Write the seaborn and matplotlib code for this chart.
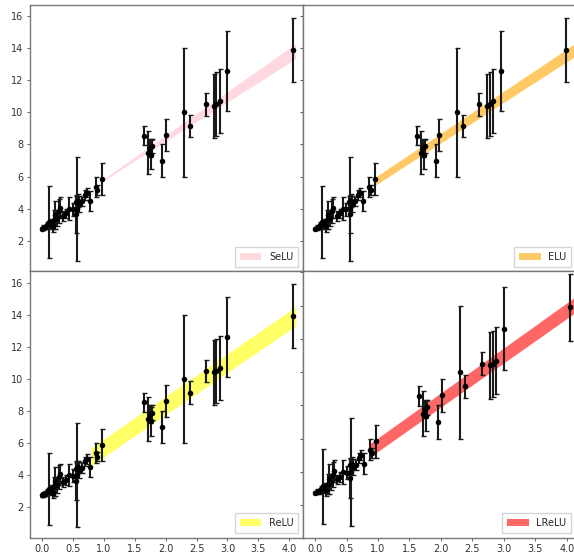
import numpy as np
import pandas as pd
import matplotlib
matplotlib.use('Agg')
import matplotlib.pyplot as plt
import seaborn as sns

# 数据点
x_vals = [0.00, 0.03, 0.06, 0.09, 0.12, 0.15, 0.18, 0.20, 0.22, 0.25,
          0.28, 0.30, 0.35, 0.40, 0.45, 0.50, 0.55, 0.56, 0.57, 0.58,
          0.60, 0.65, 0.70, 0.73, 0.78, 0.87, 0.90, 0.97, 1.65, 1.72,
          1.75, 1.76, 1.78, 1.95, 2.01, 2.30, 2.39, 2.65, 2.78, 2.82,
          2.88, 3.00, 4.05]
y_vals = [2.75, 2.80, 2.85, 2.95, 3.15, 3.05, 2.90, 3.30, 3.60, 3.40,
          3.85, 4.05, 3.55, 3.70, 4.00, 3.95, 4.40, 3.65, 4.00, 4.50,
          4.30, 4.45, 4.85, 5.00, 4.50, 5.35, 5.15, 5.85, 8.55, 7.50,
          7.80, 7.35, 7.90, 7.00, 8.60, 10.00, 9.15, 10.50, 10.40, 10.50,
          10.70, 12.60, 13.90]
y_err = [0.10, 0.15, 0.15, 0.20, 2.25, 0.30, 0.35, 0.60, 0.90, 0.50,
         0.75, 0.65, 0.30, 0.30, 0.70, 0.40, 0.40, 1.20, 3.25, 0.40,
         0.50, 0.30, 0.30, 0.30, 0.62, 0.62, 0.30, 1.00, 0.60, 1.35,
         0.55, 0.90, 0.45, 1.00, 1.00, 4.00, 0.70, 0.70, 2.00, 2.00,
         2.00, 2.50, 2.00]

# 各激活函数的拟合区间
models = ['SeLU', 'ELU', 'ReLU', 'LReLU']
colors = ['pink', 'orange', 'yellow', 'red']
band_x = {'SeLU': [1.00, 4.10], 'ELU': [0.97, 4.20],
          'ReLU': [0.80, 4.10], 'LReLU': [0.86, 4.15]}
band_low = {'SeLU': [5.75, 13.35], 'ELU': [5.45, 13.50],
            'ReLU': [4.60, 13.30], 'LReLU': [4.87, 13.62]}
band_high = {'SeLU': [5.85, 14.30], 'ELU': [5.95, 14.30],
             'ReLU': [5.70, 14.50], 'LReLU': [5.67, 14.57]}

x_ticks = [0.0, 0.5, 1.0, 1.5, 2.0, 2.5, 3.0, 3.5, 4.0]
y_ticks = [2, 4, 6, 8, 10, 12, 14, 16]

sns.set_theme(style='ticks')
plt.rcParams['font.family'] = ['DejaVu Sans']

df = pd.DataFrame({'x': x_vals, 'y': y_vals, 'err': y_err})

fig, axes = plt.subplots(2, 2, figsize=(5.74, 5.58), dpi=100)
plt.subplots_adjust(left=0.052, right=1.004, bottom=0.036, top=0.991,
                    wspace=0, hspace=0)

for i, (ax, name, col) in enumerate(zip(axes.flat, models, colors)):
    ax.fill_between(band_x[name], band_low[name], band_high[name],
                    color=col, alpha=0.6, linewidth=0, label=name, zorder=1)
    ax.errorbar(df['x'], df['y'], yerr=df['err'], fmt='none',
                ecolor='#1a1a1a', elinewidth=1.5, capsize=1.8,
                capthick=1.0, zorder=2)
    sns.scatterplot(data=df, x='x', y='y', ax=ax, color='black', s=16,
                    edgecolor='black', linewidth=0, zorder=3)
    ax.set_xlabel('')
    ax.set_ylabel('')
    ax.set_xticks(x_ticks)
    ax.set_yticks(y_ticks)
    if name == 'LReLU':
        ax.set_xlim(-0.19, 4.15)
        ax.set_ylim(0.04, 16.05)
    else:
        ax.set_xlim(-0.19, 4.22)
        ax.set_ylim(0.08, 16.7)
    ax.tick_params(labelsize=7, length=2.5, width=0.6, pad=2,
                   colors='#444', labelcolor='#333')
    for sp in ax.spines.values():
        sp.set_color('#777')
        sp.set_linewidth(1.0)
    if i < 2:
        ax.set_xticklabels([])
    else:
        ax.set_xticklabels([f"{t:.1f}" for t in x_ticks])
    if i % 2 == 1:
        ax.set_yticklabels([])
    ax.legend(loc='lower right', fontsize=7, frameon=True, fancybox=False,
              edgecolor='#ccc', handlelength=2.2, borderpad=0.5)

plt.savefig('out.png', dpi=100)
plt.close()
